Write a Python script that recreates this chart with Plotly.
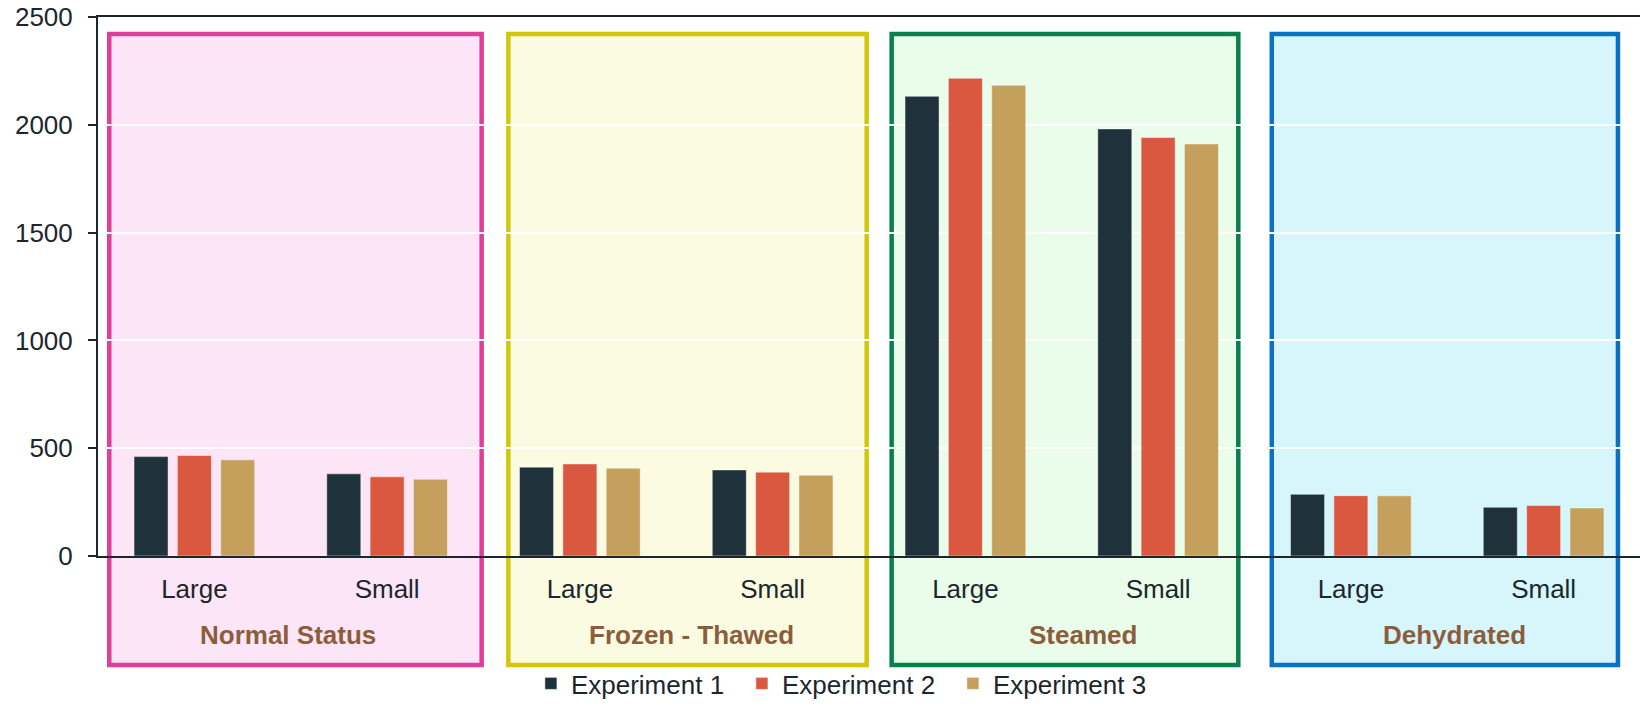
import plotly.graph_objects as go

# ---------------- data ----------------
groups = ["Normal Status", "Frozen - Thawed", "Steamed", "Dehydrated"]
sizes = ["Large", "Small"]
series_names = ["Experiment 1", "Experiment 2", "Experiment 3"]
exp1 = [461, 381, 412, 399, 2132, 1981, 286, 226]
exp2 = [466, 367, 427, 389, 2216, 1941, 280, 234]
exp3 = [446, 356, 407, 375, 2183, 1911, 279, 223]
y_ticks = [0, 500, 1000, 1500, 2000, 2500]

# ---------------- style ----------------
series_colors = ["#1F323C", "#DA5740", "#C4A05C"]
box_line = ["#DF3F98", "#D4C70A", "#08804E", "#0B72C3"]
box_fill = ["#FCE5F6", "#FBFBE2", "#EAFCEA", "#D6F6FC"]
box_x = [(0.0073, 0.2488), (0.2661, 0.4985), (0.5147, 0.7395), (0.7612, 0.9857)]
box_y = (-0.2022, 0.9685)
label_x = [0.1234, 0.3852, 0.6388, 0.8794]
label_y = -0.1466
FONT = "Liberation Sans, Arial, sans-serif"
INK = "#1C262C"

keys = [f"{g}|{s}" for g in groups for s in sizes]
ticktext = [s for g in groups for s in sizes]

fig = go.Figure()
for name, vals, col in zip(series_names, [exp1, exp2, exp3], series_colors):
    fig.add_trace(go.Bar(
        x=keys, y=vals, name=name,
        marker=dict(color=col, line=dict(color="rgba(255,255,255,0.45)", width=1)),
    ))

shapes = []
annotations = []
for i, g in enumerate(groups):
    shapes.append(dict(
        type="rect", xref="paper", yref="paper",
        x0=box_x[i][0], x1=box_x[i][1], y0=box_y[0], y1=box_y[1],
        line=dict(color=box_line[i], width=4.5), fillcolor=box_fill[i], layer="below",
    ))
    annotations.append(dict(
        xref="paper", yref="paper", x=label_x[i], y=label_y,
        text=f"<b>{g}</b>", showarrow=False, xanchor="center", yanchor="middle",
        font=dict(family=FONT, size=26, color="#8B5D3B"),
    ))

fig.update_layout(
    width=1640, height=707,
    margin=dict(l=98, r=0, t=17, b=151),
    paper_bgcolor="white", plot_bgcolor="white",
    barmode="group", bargap=0.3255, bargroupgap=0.215,
    font=dict(family=FONT, size=26, color=INK),
    shapes=shapes, annotations=annotations,
    showlegend=True,
    legend=dict(
        orientation="h", x=0.486, xanchor="center",
        yref="container", y=-0.0057, yanchor="bottom",
        entrywidth=166,
        font=dict(family=FONT, size=26, color=INK),
        bgcolor="rgba(0,0,0,0)",
    ),
)
fig.update_xaxes(
    tickvals=keys, ticktext=ticktext, ticks="",
    showline=True, linecolor=INK, linewidth=2, mirror=True,
    showgrid=False, ticklabelstandoff=9,
    tickfont=dict(family=FONT, size=26, color=INK),
)
fig.update_yaxes(
    range=[0, 2500], tickvals=y_ticks,
    showline=True, linecolor=INK, linewidth=2,
    ticks="outside", ticklen=8, tickwidth=2, tickcolor=INK,
    showgrid=True, gridcolor="white", gridwidth=2,
    zeroline=False, ticklabelstandoff=10,
    tickfont=dict(family=FONT, size=26, color=INK),
)

fig.write_html(
    "out.html",
    config={"displayModeBar": False},
    post_script="document.body.style.margin='0';document.body.style.overflow='hidden';",
)
